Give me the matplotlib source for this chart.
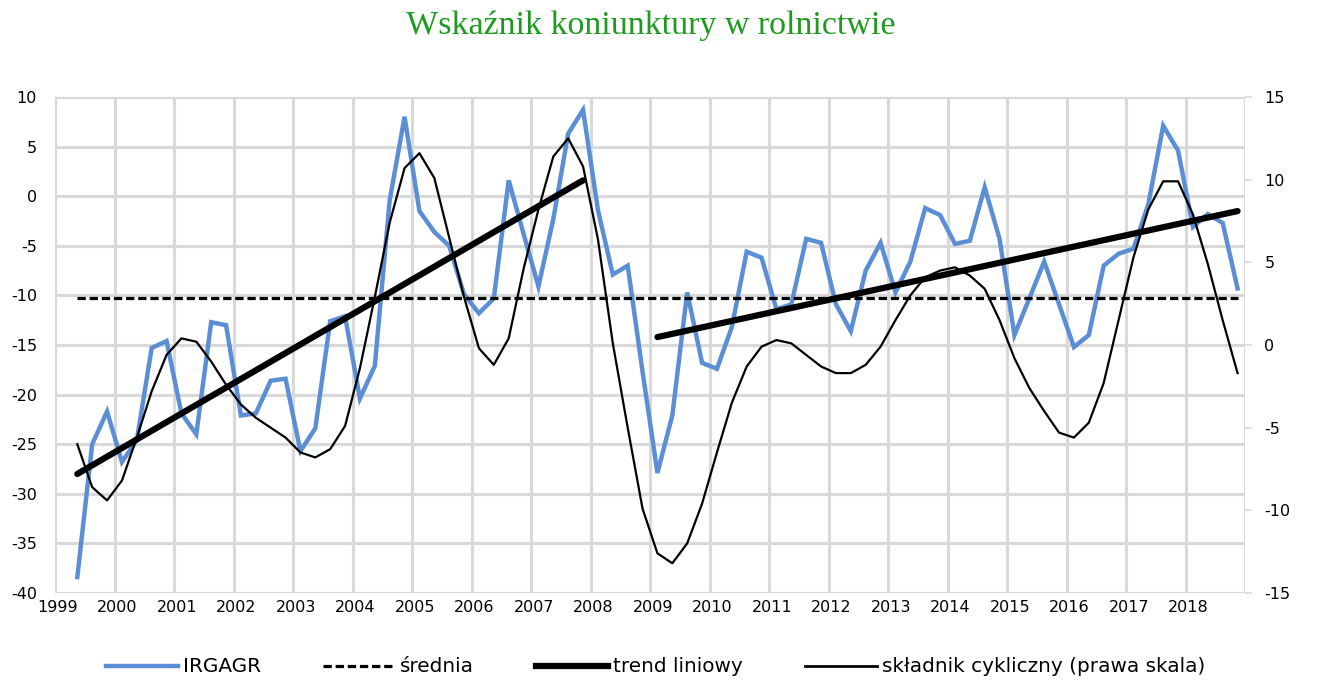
import numpy as np
import matplotlib.pyplot as plt
from matplotlib.lines import Line2D

plt.rcParams['axes.unicode_minus'] = False

years = list(range(1999, 2019))
first_quarter = 2  # dane od II kwartalu 1999

irgagr = [
    -38.4, -25.0, -21.7,
    -26.8, -24.6, -15.3, -14.6,
    -21.9, -24.0, -12.7, -13.0,
    -22.1, -21.9, -18.6, -18.4,
    -25.7, -23.4, -12.6, -12.1,
    -20.4, -17.1, -0.4, 8.0,
    -1.5, -3.6, -5.0, -9.9,
    -11.8, -10.3, 1.6, -3.8,
    -9.1, -2.3, 6.3, 8.7,
    -1.4, -7.9, -7.0, -17.7,
    -27.9, -22.1, -9.7, -16.8,
    -17.4, -13.2, -5.6, -6.2,
    -11.4, -10.9, -4.3, -4.7,
    -10.9, -13.6, -7.5, -4.7,
    -9.7, -6.6, -1.2, -1.9,
    -4.8, -4.5, 0.9, -4.3,
    -14.0, -10.3, -6.6, -10.9,
    -15.2, -14.0, -7.0, -5.8,
    -5.3, -0.8, 7.1, 4.6,
    -3.1, -1.8, -2.7, -9.3,
]

cykl = [
    -6.0, -8.6, -9.4,
    -8.2, -5.6, -2.8, -0.6,
    0.4, 0.2, -1.0, -2.4,
    -3.6, -4.4, -5.0, -5.6,
    -6.5, -6.8, -6.3, -4.9,
    -1.4, 2.9, 7.4, 10.7,
    11.6, 10.1, 6.5, 2.9,
    -0.2, -1.2, 0.4, 4.6,
    8.2, 11.4, 12.5, 10.8,
    6.4, 0.1, -5.0, -9.9,
    -12.6, -13.2, -12.0, -9.6,
    -6.5, -3.5, -1.3, -0.1,
    0.3, 0.1, -0.6, -1.3,
    -1.7, -1.7, -1.2, -0.1,
    1.5, 3.0, 4.1, 4.5,
    4.7, 4.2, 3.4, 1.5,
    -0.8, -2.6, -4.0, -5.3,
    -5.6, -4.7, -2.3, 1.5,
    5.3, 8.2, 9.9, 9.9,
    7.9, 4.9, 1.5, -1.7,
]

srednia = -10.3
trend1_range = ['1999Q2', '2007Q4']
trend1_values = [-28.0, 1.6]
trend2_range = ['2009Q1', '2018Q4']
trend2_values = [-14.2, -1.5]

quarters = [(y, q) for y in years for q in range(1, 5)][first_quarter - 1:]
labels_q = ['%dQ%d' % (y, q) for y, q in quarters]
x = np.array([y + (q - 0.5) / 4 for y, q in quarters])

blue = '#5B8ED5'
green = '#1E9A1E'
grid_col = '#D9D9D9'

fig = plt.figure(figsize=(13.3, 6.95), dpi=100)
ax = fig.add_axes([55 / 1330, 1 - 593 / 695, 1190 / 1330, 496 / 695])
ax2 = ax.twinx()

ax.set_xlim(1999, 2019)
ax.set_ylim(-40, 10)
ax2.set_ylim(-15, 15)

# siatka
ax.set_xticks(range(1999, 2020))
ax.set_xticklabels([])
ax.set_xticks([y + 0.05 for y in years], minor=True)
ax.set_xticklabels([str(y) for y in years], minor=True)
ax.set_yticks(range(-40, 11, 5))
ax2.set_yticks(range(-15, 16, 5))
ax.grid(True, which='major', color=grid_col, linewidth=2.2)
ax.set_axisbelow(True)
for a in (ax, ax2):
    for s in a.spines.values():
        s.set_visible(False)

ax.tick_params(axis='x', which='both', length=0, labelsize=11.5, pad=5)
ax.tick_params(axis='y', length=0, labelsize=11.5, pad=13)
ax2.tick_params(axis='y', length=5, width=1.2, color=grid_col, labelsize=11.5, pad=9)

ax.plot(x, irgagr, color=blue, linewidth=3.2, solid_joinstyle='miter', zorder=3)
ax.plot([x[0], x[-1]], [srednia, srednia], color='black', linewidth=2.3,
        dashes=(2.6, 1.2), zorder=4)
i1 = [labels_q.index(q) for q in trend1_range]
i2 = [labels_q.index(q) for q in trend2_range]
ax.plot(x[i1], trend1_values, color='black', linewidth=4.5, solid_capstyle='round', zorder=4)
ax.plot(x[i2], trend2_values, color='black', linewidth=4.5, solid_capstyle='round', zorder=4)
ax2.plot(x, cykl, color='black', linewidth=1.6, zorder=5)

fig.text(0.489, 1 - 26 / 695, 'Wskaźnik koniunktury w rolnictwie', color=green,
         family='Liberation Serif', fontsize=24.5, ha='center', va='center')

handles = [
    Line2D([], [], color=blue, linewidth=3.2),
    Line2D([], [], color='black', linewidth=2.3, dashes=(2.6, 1.2)),
    Line2D([], [], color='black', linewidth=4.5),
    Line2D([], [], color='black', linewidth=2.0),
]
names = ['IRGAGR', 'średnia', 'trend liniowy', 'składnik cykliczny (prawa skala)']
fig.legend(handles, names, loc='center', bbox_to_anchor=(0.493, 1 - 667 / 695),
           ncol=4, frameon=False, fontsize=14.4, handlelength=3.6,
           handletextpad=0.25, columnspacing=3.1)

fig.savefig('out.png', dpi=100)
